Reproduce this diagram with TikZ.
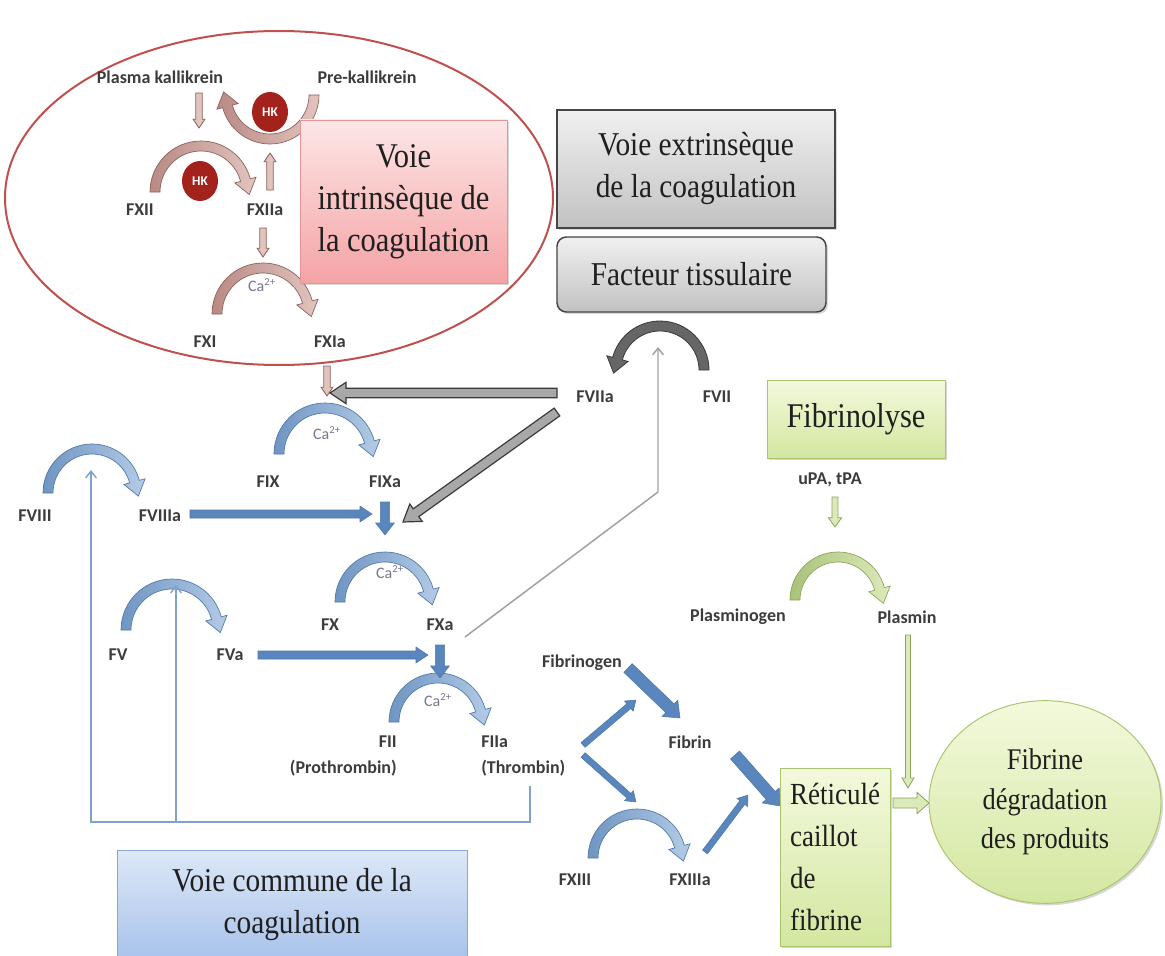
\documentclass[tikz,border=0pt]{standalone}
\usepackage{fontspec}
\setmainfont{Liberation Serif}
\newfontfamily\labelfont{Carlito}
\newfontfamily\boxfont[FakeStretch=0.88]{Liberation Serif}
\usetikzlibrary{calc,shadows,arrows.meta,shapes.geometric}

\definecolor{lblgray}{HTML}{3C3C3C}
\definecolor{capurple}{HTML}{7B7594}
\definecolor{ellred}{HTML}{C0504D}
\definecolor{hkred}{HTML}{A3231C}
\definecolor{brdark}{HTML}{8E5E58}
\definecolor{brmid}{HTML}{B98A84}
\definecolor{brlight}{HTML}{E2C4BF}
\definecolor{bldark}{HTML}{4F78A8}
\definecolor{blmid}{HTML}{6F95C2}
\definecolor{bllight}{HTML}{B4CBE6}
\definecolor{blarrow}{HTML}{5A86BE}
\definecolor{blline}{HTML}{7FA2CC}
\definecolor{gndark}{HTML}{8AA55A}
\definecolor{gnmid}{HTML}{A9C27A}
\definecolor{gnlight}{HTML}{DCEABB}
\definecolor{gydark}{HTML}{3A3A3A}
\definecolor{gymid}{HTML}{666666}
\definecolor{gylight}{HTML}{A8A8A8}
\definecolor{gythin}{HTML}{A0A0A0}
\definecolor{pinktop}{HTML}{FDE6E6}
\definecolor{pinkbot}{HTML}{F5A3A5}
\definecolor{pinkedge}{HTML}{E39595}
\definecolor{greytop}{HTML}{F0F0F0}
\definecolor{greybot}{HTML}{C2C2C2}
\definecolor{greyedge}{HTML}{454545}
\definecolor{greenbtop}{HTML}{F3F9DC}
\definecolor{greenbbot}{HTML}{D3E7A0}
\definecolor{greenedge}{HTML}{A8C46E}
\definecolor{bluebtop}{HTML}{DDE8F7}
\definecolor{bluebbot}{HTML}{A7C2EA}
\definecolor{blueedge}{HTML}{8CA8D2}

% curved block arrow: options, centre, radius, end angle
\newcommand\bendarrow[4]{%
  \path[shift={#2},#1]
    (180:#3+5) arc[start angle=180,end angle=#4,radius=#3+5]
    -- (#4:#3+11)
    -- ({#4+atan(15/#3)}:{sqrt(#3*#3+225)})
    -- (#4:#3-11)
    -- (#4:#3-5)
    arc[start angle=#4,end angle=180,radius=#3-5] -- cycle;}

% straight block arrow: options, from, to, half shaft, half head, head length
\newcommand\blockarrow[6]{%
  \path[#1] let \p1=(#2), \p2=(#3),
    \n1={atan2(\y2-\y1,\x2-\x1)}, \n2={veclen(\x2-\x1,\y2-\y1)} in
    {[shift={(\p1)},rotate=\n1]
     (0pt,-#4) -- ({\n2-#6},-#4) -- ({\n2-#6},-#5) -- (\n2,0pt)
     -- ({\n2-#6},#5) -- ({\n2-#6},#4) -- (0pt,#4) -- cycle};}

\begin{document}
\begin{tikzpicture}[x=0.75pt,y=-0.75pt,
  lbl/.style={font=\labelfont\bfseries\fontsize{13.5}{15}\selectfont, text=lblgray, inner sep=0pt},
  ca/.style={font=\labelfont\fontsize{12}{13}\selectfont, text=capurple, inner sep=0pt},
  boxtxt/.style={font=\boxfont\fontsize{25}{31.5}\selectfont, text=black!88, align=center, inner sep=0pt},
  hk/.style={ellipse, fill=hkred, minimum width=27pt, minimum height=30pt, inner sep=0pt, text=white,
             font=\labelfont\bfseries\fontsize{10}{11}\selectfont},
  softshadow/.style={drop shadow={shadow xshift=1.5pt, shadow yshift=-1.5pt, opacity=0.3}},
  greybox/.style={boxtxt, draw=greyedge, line width=1.1pt, top color=greytop, bottom color=greybot, softshadow},
  greenbox/.style={boxtxt, draw=greenedge, line width=0.7pt, top color=greenbtop, bottom color=greenbbot, softshadow},
  brownarc/.style={left color=brmid, right color=brlight, draw=brdark, line width=0.5pt},
  bluearc/.style={left color=blmid, right color=bllight, draw=bldark, line width=0.5pt},
  greenarc/.style={left color=gnmid, right color=gnlight, draw=gndark, line width=0.5pt},
  greyarc/.style={fill=gymid, draw=gydark, line width=0.6pt},
  brownbar/.style={fill=brlight, draw=brdark, line width=0.6pt},
  bluebar/.style={fill=blarrow, draw=bldark, line width=0.4pt},
  greybar/.style={fill=gylight, draw=gydark, line width=0.9pt},
  greenbar/.style={fill=gnlight, draw=gndark, line width=0.6pt},
  thinline/.style={line width=1.1pt, -{Straight Barb[length=5pt,width=8pt]}}]

\useasboundingbox (0,0) rectangle (1165,956);
\fill[white] (0,0) rectangle (1165,956);

% ---------- intrinsic pathway ----------
\draw[ellred, line width=1.5pt] (279,198) ellipse [x radius=274, y radius=167];

\bendarrow{brownarc, rotate=180}{(270,95)}{44}{345}
\bendarrow{brownarc}{(201,192)}{46}{345}
\bendarrow{brownarc}{(263,314)}{46}{345}
\node[hk] (hk1) at (270,112) {HK};
\node[hk] (hk2) at (200,181) {HK};

\node[lbl] (pkal) at (160,77) {Plasma kallikrein};
\node[lbl] (prek) at (367,77) {Pre-kallikrein};
\node[lbl] (fxii) at (140,210) {FXII};
\node[lbl] (fxiia) at (265,210) {FXIIa};
\node[ca] (ca1) at (262,285) {Ca\textsuperscript{2+}};
\node[lbl] (fxi) at (205,342) {FXI};
\node[lbl] (fxia) at (330,342) {FXIa};

\coordinate (pkA) at (199,93);   \coordinate (pkB) at (199,128);
\coordinate (xiiA) at (270,190); \coordinate (xiiB) at (270,153);
\coordinate (xiiC) at (263,228); \coordinate (xiiD) at (263,257);
\coordinate (xiA) at (327,366);  \coordinate (xiB) at (327,396);
\blockarrow{brownbar}{pkA}{pkB}{2.4pt}{4.4pt}{6.5pt}
\blockarrow{brownbar}{xiiA}{xiiB}{2.4pt}{4.4pt}{6.5pt}
\blockarrow{brownbar}{xiiC}{xiiD}{2.4pt}{4.4pt}{6.5pt}
\blockarrow{brownbar}{xiA}{xiB}{2.4pt}{4.4pt}{6.5pt}

\node[boxtxt, draw=pinkedge, line width=0.6pt, top color=pinktop, bottom color=pinkbot,
      minimum width=155.25pt, minimum height=122.25pt, softshadow,
      font=\boxfont\fontsize{26}{31.5}\selectfont] (intr) at (403.5,201.5)
      {Voie\\intrinsèque de\\la coagulation};

% ---------- extrinsic pathway ----------
\node[greybox, minimum width=208.5pt, minimum height=88.5pt] (extr) at (696,169)
      {Voie extrinsèque\\de la coagulation};
\node[greybox, rounded corners=7pt, minimum width=201.75pt, minimum height=56.25pt] (tf) at (691.5,274.5)
      {Facteur tissulaire};

\bendarrow{greyarc, xscale=-1}{(660,370)}{44}{345}
\node[lbl] (fviia) at (595,397) {FVIIa};
\node[lbl] (fvii) at (717,397) {FVII};

\coordinate (viiH) at (557,393); \coordinate (viiHend) at (330,393);
\coordinate (viiD) at (557,412); \coordinate (viiDend) at (403,522);
\blockarrow{greybar}{viiH}{viiHend}{3.6pt}{8pt}{12pt}
\blockarrow{greybar}{viiD}{viiDend}{3.6pt}{8pt}{12pt}

% ---------- common pathway ----------
\bendarrow{bluearc}{(325,454)}{46}{345}
\bendarrow{bluearc}{(92,493)}{44}{345}
\bendarrow{bluearc}{(385,602)}{45}{345}
\bendarrow{bluearc}{(172,630)}{46}{345}
\bendarrow{bluearc}{(438,722)}{44}{345}
\bendarrow{bluearc}{(637,858)}{44}{345}

\node[ca] (ca2) at (327,433) {Ca\textsuperscript{2+}};
\node[ca] (ca3) at (390,572) {Ca\textsuperscript{2+}};
\node[ca] (ca4) at (438,700) {Ca\textsuperscript{2+}};

\node[lbl] (fix) at (268,482) {FIX};
\node[lbl] (fixa) at (385,482) {FIXa};
\node[lbl] (fviii) at (35,516) {FVIII};
\node[lbl] (fviiia) at (160,516) {FVIIIa};
\node[lbl] (fx) at (330,625) {FX};
\node[lbl] (fxa) at (440,625) {FXa};
\node[lbl] (fv) at (118,655) {FV};
\node[lbl] (fva) at (230,655) {FVa};
\node[lbl, anchor=east] (fii) at (397,742) {FII};
\node[lbl, anchor=east] (prot) at (397,768) {(Prothrombin)};
\node[lbl, anchor=west] (fiia) at (481,742) {FIIa};
\node[lbl, anchor=west] (thro) at (481,768) {(Thrombin)};
\node[lbl] (fbg) at (582,663) {Fibrinogen};
\node[lbl] (fib) at (690,742) {Fibrin};
\node[lbl] (fxiii) at (575,880) {FXIII};
\node[lbl] (fxiiia) at (690,880) {FXIIIa};

\coordinate (viiiA) at (190,514); \coordinate (viiiB) at (372,514);
\coordinate (ixA) at (385,502);   \coordinate (ixB) at (385,535);
\coordinate (vaA) at (258,655);   \coordinate (vaB) at (428,655);
\coordinate (xaA) at (440,645);   \coordinate (xaB) at (440,678);
\coordinate (thA) at (583,745);   \coordinate (thB) at (636,700);
\coordinate (thC) at (583,755);   \coordinate (thD) at (636,802);
\coordinate (fgA) at (628,668);   \coordinate (fgB) at (680,718);
\coordinate (fbA) at (735,755);   \coordinate (fbB) at (780,806);
\coordinate (x13A) at (705,852);  \coordinate (x13B) at (748,795);
\blockarrow{bluebar}{viiiA}{viiiB}{3pt}{6pt}{9pt}
\blockarrow{bluebar}{vaA}{vaB}{3pt}{6pt}{9pt}
\blockarrow{bluebar}{ixA}{ixB}{3.4pt}{7pt}{9pt}
\blockarrow{bluebar}{xaA}{xaB}{3.4pt}{7pt}{9pt}
\blockarrow{bluebar}{thA}{thB}{2.3pt}{5pt}{7pt}
\blockarrow{bluebar}{thC}{thD}{2.3pt}{5pt}{7pt}
\blockarrow{bluebar}{x13A}{x13B}{2.3pt}{5pt}{7pt}
\blockarrow{bluebar}{fgA}{fgB}{4.5pt}{8.5pt}{10.5pt}
\blockarrow{bluebar}{fbA}{fbB}{4.5pt}{8.5pt}{10.5pt}

% thrombin feedback to FVIII and FV
\coordinate (fbStart) at (530,786);
\coordinate (fbCornerR) at (530,822);
\coordinate (fbCornerL) at (91,822);
\coordinate (fbVIII) at (91,470);
\coordinate (fbSplit) at (176,822);
\coordinate (fbV) at (176,585);
\draw[blline, thinline] (fbStart) -- (fbCornerR) -- (fbCornerL) -- (fbVIII);
\draw[blline, thinline] (fbSplit) -- (fbV);

% FXa feedback to tissue factor
\coordinate (xaOut) at (465,637);
\coordinate (tfBend) at (658,492);
\coordinate (tfIn) at (658,347);
\draw[gythin, thinline] (xaOut) -- (tfBend) -- (tfIn);

\node[boxtxt, draw=blueedge, line width=0.7pt, top color=bluebtop, bottom color=bluebbot,
      minimum width=262.5pt, minimum height=82.5pt] (comm) at (292,905)
      {Voie commune de la\\coagulation};

% ---------- fibrinolysis ----------
\node[greenbox, minimum width=133.5pt, minimum height=58.5pt,
      font=\boxfont\fontsize{26}{31.5}\selectfont] (fibl) at (856,419) {Fibrinolyse};
\node[lbl] (upa) at (830,480) {uPA, tPA};
\bendarrow{greenarc}{(838,600)}{43}{345}
\node[lbl] (plg) at (738,617) {Plasminogen};
\node[lbl] (plm) at (907,617) {Plasmin};

\node[greenbox, align=left, minimum width=82.5pt, minimum height=133.5pt,
      font=\boxfont\fontsize{23}{31.5}\selectfont] (clot) at (835,857)
      {Réticulé\\caillot\\de\\fibrine};
\node[greenbox, ellipse, minimum width=174pt, minimum height=152pt,
      font=\boxfont\fontsize{22.5}{29.5}\selectfont] (fdp) at (1045,802)
      {Fibrine\\dégradation\\des produits};

\coordinate (upaA) at (835,497);  \coordinate (upaB) at (835,527);
\coordinate (plmA) at (908,635);  \coordinate (plmB) at (908,788);
\coordinate (clotA) at (893,803); \coordinate (clotB) at (929,803);
\blockarrow{greenbar}{upaA}{upaB}{2.2pt}{5pt}{7pt}
\blockarrow{greenbar}{plmA}{plmB}{1.9pt}{4.5pt}{7.5pt}
\blockarrow{greenbar}{clotA}{clotB}{3.8pt}{8pt}{9pt}

\end{tikzpicture}
\end{document}
